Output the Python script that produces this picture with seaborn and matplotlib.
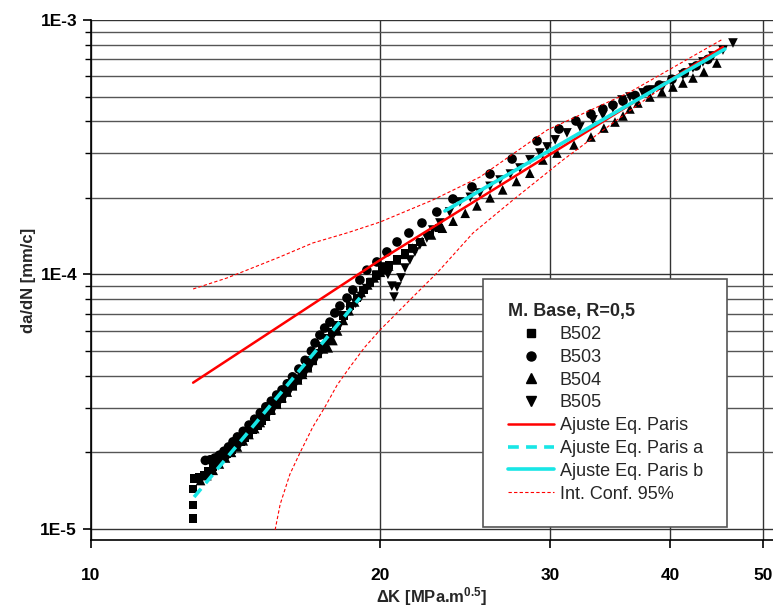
import matplotlib
matplotlib.use("Agg")
import matplotlib.pyplot as plt
import seaborn as sns
from matplotlib.lines import Line2D
from matplotlib.ticker import FixedLocator, FuncFormatter, NullFormatter, NullLocator, LogLocator

# --- data ---
b502_dk = [12.77, 12.77, 12.77, 12.80, 12.95, 13.1, 13.25, 13.4, 13.55, 13.7, 13.85, 14.0,
           14.15, 14.3, 14.45, 14.6, 14.75, 14.9, 15.05, 15.2, 15.4, 15.6, 15.8, 16.0, 16.2,
           16.4, 16.6, 16.8, 17.0, 17.2, 17.4, 17.6, 17.8, 18.0, 18.3, 18.6, 18.9, 19.2,
           19.5, 19.8, 20.1, 20.4, 20.8, 21.2, 21.6, 22.0, 22.5, 23.0]
b502_dadn = [1.10e-5, 1.24e-5, 1.44e-5, 1.58e-5, 1.60e-5, 1.62e-5, 1.68e-5, 1.75e-5, 1.83e-5,
             1.91e-5, 1.98e-5, 2.05e-5, 2.12e-5, 2.20e-5, 2.28e-5, 2.37e-5, 2.46e-5, 2.55e-5,
             2.65e-5, 2.76e-5, 2.92e-5, 3.08e-5, 3.26e-5, 3.45e-5, 3.65e-5, 3.87e-5, 4.10e-5,
             4.35e-5, 4.62e-5, 4.92e-5, 5.25e-5, 5.6e-5, 5.95e-5, 6.3e-5, 6.9e-5, 7.5e-5,
             8.1e-5, 8.7e-5, 9.3e-5, 9.9e-5, 1.04e-4, 1.09e-4, 1.15e-4, 1.21e-4, 1.27e-4,
             1.34e-4, 1.43e-4, 1.52e-4]

b503_dk = [13.15, 13.3, 13.45, 13.6, 13.75, 13.9, 14.05, 14.2, 14.4, 14.6, 14.8, 15.0, 15.2,
           15.4, 15.6, 15.8, 16.0, 16.2, 16.45, 16.7, 16.95, 17.1, 17.3, 17.5, 17.72, 17.93,
           18.15, 18.46, 18.72, 19.04, 19.36, 19.83, 20.31, 20.81, 21.41, 22.09, 22.89, 23.79,
           24.9, 26.0, 27.41, 29.1, 30.67, 31.94, 33.11, 34.07, 34.9, 35.75, 36.8, 37.9, 39.0,
           40.2, 41.4, 42.6, 43.8]
b503_dadn = [1.86e-5, 1.87e-5, 1.90e-5, 1.95e-5, 2.02e-5, 2.10e-5, 2.20e-5, 2.30e-5, 2.42e-5,
             2.56e-5, 2.70e-5, 2.86e-5, 3.02e-5, 3.18e-5, 3.36e-5, 3.52e-5, 3.72e-5, 3.96e-5,
             4.25e-5, 4.60e-5, 5.0e-5, 5.38e-5, 5.78e-5, 6.16e-5, 6.5e-5, 7.06e-5, 7.52e-5,
             8.08e-5, 8.69e-5, 9.51e-5, 1.04e-4, 1.12e-4, 1.226e-4, 1.342e-4, 1.455e-4,
             1.593e-4, 1.76e-4, 1.98e-4, 2.207e-4, 2.482e-4, 2.843e-4, 3.346e-4, 3.729e-4,
             4.01e-4, 4.27e-4, 4.47e-4, 4.63e-4, 4.8e-4, 5.05e-4, 5.3e-4, 5.55e-4, 5.85e-4,
             6.2e-4, 6.6e-4, 7.0e-4]

b504_dk = [13.0, 13.2, 13.4, 13.6, 13.8, 14.0, 14.2, 14.4, 14.6, 14.8, 15.0, 15.2, 15.4, 15.6,
           15.8, 16.0, 16.2, 16.4, 16.6, 16.8, 17.0, 17.2, 17.45, 17.65, 17.85, 18.05, 18.3,
           18.55, 18.8, 19.1, 19.4, 19.7, 20.0, 20.4, 20.8, 21.2, 21.6, 22.1, 22.6, 23.2, 23.8,
           24.5, 25.2, 26.0, 26.8, 27.7, 28.6, 29.51, 30.52, 31.79, 33.11, 34.15, 35.07, 35.75,
           36.35, 37.05, 38.13, 39.24, 40.29, 41.27, 42.27, 43.39, 44.76]
b504_dadn = [1.55e-5, 1.62e-5, 1.70e-5, 1.80e-5, 1.90e-5, 2.00e-5, 2.10e-5, 2.22e-5, 2.35e-5,
             2.48e-5, 2.62e-5, 2.78e-5, 2.94e-5, 3.1e-5, 3.28e-5, 3.45e-5, 3.65e-5, 3.85e-5,
             4.05e-5, 4.3e-5, 4.6e-5, 4.9e-5, 5.1e-5, 5.15e-5, 5.5e-5, 6.0e-5, 6.6e-5, 7.2e-5,
             7.8e-5, 8.5e-5, 9.1e-5, 9.7e-5, 1.02e-4, 1.08e-4, 1.14e-4, 1.2e-4, 1.27e-4,
             1.35e-4, 1.43e-4, 1.52e-4, 1.62e-4, 1.74e-4, 1.86e-4, 2.0e-4, 2.15e-4, 2.32e-4,
             2.5e-4, 2.818e-4, 3.0e-4, 3.228e-4, 3.469e-4, 3.762e-4, 3.973e-4, 4.196e-4,
             4.471e-4, 4.719e-4, 4.982e-4, 5.213e-4, 5.453e-4, 5.655e-4, 5.918e-4, 6.248e-4,
             6.776e-4]

b505_dk = [13.5, 13.7, 13.9, 14.1, 14.3, 14.5, 14.7, 14.9, 15.1, 15.3, 15.5, 15.7, 15.9, 16.1,
           16.3, 16.5, 16.7, 16.9, 17.1, 17.3, 17.5, 17.7, 17.9, 18.1, 18.35, 18.6, 18.85, 19.1,
           19.35, 19.6, 19.83, 20.12, 20.36, 20.55, 20.66, 20.81, 21.01, 21.21, 21.46, 21.72,
           21.98, 22.35, 22.67, 23.06, 23.6, 24.19, 24.8, 25.38, 26.0, 26.63, 27.3, 27.93,
           28.61, 29.3, 29.81, 30.39, 31.26, 32.25, 33.27, 34.07, 34.9, 35.66, 36.35, 37.5,
           38.41, 39.34, 40.29, 41.27, 42.27, 43.29, 44.34, 45.42, 46.52]
b505_dadn = [1.78e-5, 1.86e-5, 1.95e-5, 2.05e-5, 2.16e-5, 2.28e-5, 2.41e-5, 2.54e-5, 2.68e-5,
             2.83e-5, 2.98e-5, 3.14e-5, 3.31e-5, 3.49e-5, 3.68e-5, 3.88e-5, 4.1e-5, 4.33e-5,
             4.58e-5, 4.86e-5, 5.16e-5, 5.5e-5, 5.85e-5, 6.2e-5, 6.7e-5, 7.2e-5, 7.7e-5, 8.2e-5,
             8.8e-5, 9.3e-5, 9.95e-5, 1.07e-4, 1.0e-4, 9.0e-5, 8.15e-5, 8.93e-5, 9.69e-5,
             1.06e-4, 1.14e-4, 1.226e-4, 1.306e-4, 1.391e-4, 1.495e-4, 1.593e-4, 1.76e-4,
             1.927e-4, 2.01e-4, 2.09e-4, 2.22e-4, 2.35e-4, 2.48e-4, 2.62e-4, 2.82e-4, 3.0e-4,
             3.17e-4, 3.38e-4, 3.6e-4, 3.8e-4, 4.05e-4, 4.23e-4, 4.51e-4, 4.85e-4, 4.98e-4,
             5.17e-4, 5.31e-4, 5.5e-4, 5.81e-4, 6.08e-4, 6.48e-4, 6.84e-4, 7.22e-4, 7.62e-4,
             8.12e-4]

paris_dk = [12.77, 19.97, 45.42]
paris_dadn = [3.757e-5, 1.138e-4, 7.83e-4]

paris_a_dk = [12.80, 19.04]
paris_a_dadn = [1.335e-5, 8.09e-5]

paris_b_dk = [23.34, 45.63]
paris_b_dadn = [1.777e-4, 7.69e-4]

conf_up_dk = [12.77, 13.85, 14.53, 15.7, 17.01, 18.5, 19.98, 22.67, 25.38, 29.81, 36.35, 45.42]
conf_up_dadn = [8.77e-5, 9.69e-5, 1.041e-4, 1.17e-4, 1.33e-4, 1.46e-4, 1.607e-4, 1.962e-4,
                2.415e-4, 3.695e-4, 5.21e-4, 8.42e-4]
conf_lo_dk = [15.54, 15.73, 16.10, 16.49, 17.01, 17.51, 18.03, 18.59, 19.27, 19.98, 21.46,
              22.95, 24.96, 27.47, 30.96, 35.24, 40.0, 45.1]
conf_lo_dadn = [9.91e-6, 1.25e-5, 1.64e-5, 1.989e-5, 2.517e-5, 3.015e-5, 3.679e-5, 4.33e-5,
                5.19e-5, 6.05e-5, 7.94e-5, 1.023e-4, 1.455e-4, 1.962e-4, 2.818e-4, 4.05e-4,
                5.71e-4, 7.69e-4]

x_ticks = [10, 20, 30, 40, 50]
y_ticks = [1e-5, 1e-4, 1e-3]
y_tick_labels = {1e-5: "1E-5", 1e-4: "1E-4", 1e-3: "1E-3"}

sns.set_style("ticks")
plt.rcParams['font.family'] = ['Liberation Sans', 'DejaVu Sans']
plt.rcParams['mathtext.fontset'] = 'custom'
plt.rcParams['mathtext.bf'] = 'Liberation Sans:bold'
plt.rcParams['mathtext.rm'] = 'Liberation Sans:bold'
plt.rcParams['mathtext.default'] = 'bf'

fig = plt.figure(figsize=(7.73, 6.09), dpi=100)
ax = fig.add_axes([91 / 773, 69 / 609, 682 / 773, 520 / 609])
ax.set_xscale('log')
ax.set_yscale('log')

cyan = '#18e6e6'
series = [(b502_dk, b502_dadn, 's', 36), (b503_dk, b503_dadn, 'o', 48),
          (b504_dk, b504_dadn, '^', 48), (b505_dk, b505_dadn, 'v', 48)]
for xs, ys, mk, sz in series:
    sns.scatterplot(x=xs, y=ys, marker=mk, color='black', s=sz, edgecolor='none',
                    linewidth=0, ax=ax, zorder=3, legend=False)

sns.lineplot(x=conf_up_dk, y=conf_up_dadn, color='red', lw=0.8, linestyle=(0, (3, 2)),
             sort=False, estimator=None, ax=ax, zorder=4)
sns.lineplot(x=conf_lo_dk, y=conf_lo_dadn, color='red', lw=0.8, linestyle=(0, (3, 2)),
             sort=False, estimator=None, ax=ax, zorder=4)
sns.lineplot(x=paris_dk, y=paris_dadn, color='red', lw=1.8, sort=False, estimator=None,
             ax=ax, zorder=5)
sns.lineplot(x=paris_a_dk, y=paris_a_dadn, color=cyan, lw=2.6, linestyle=(0, (3, 2)),
             sort=False, estimator=None, ax=ax, zorder=5)
sns.lineplot(x=paris_b_dk, y=paris_b_dadn, color=cyan, lw=2.6, sort=False, estimator=None,
             ax=ax, zorder=5)

ax.set_xlim(10, 51.2)
ax.set_ylim(9.05e-6, 1e-3)

ax.xaxis.set_major_locator(FixedLocator(x_ticks))
ax.xaxis.set_major_formatter(FuncFormatter(lambda v, p: f"{v:g}"))
ax.xaxis.set_minor_locator(NullLocator())
ax.yaxis.set_major_locator(FixedLocator(y_ticks))
ax.yaxis.set_major_formatter(FuncFormatter(lambda v, p: y_tick_labels.get(v, "")))
ax.yaxis.set_minor_locator(LogLocator(base=10, subs=[2, 3, 4, 5, 6, 7, 8, 9]))
ax.yaxis.set_minor_formatter(NullFormatter())

ax.grid(True, which='major', axis='both', color='#333333', lw=1.0)
ax.grid(True, which='minor', axis='y', color='#555555', lw=1.0)
ax.set_axisbelow(True)

for side in ['top', 'right']:
    ax.spines[side].set_visible(False)
for side in ['left', 'bottom']:
    ax.spines[side].set_color('black')
    ax.spines[side].set_linewidth(1.2)

ax.tick_params(axis='both', which='major', direction='out', length=6, width=1.2,
               colors='black', labelsize=12.5)
ax.tick_params(axis='y', which='minor', direction='out', length=4, width=1.0, colors='black')
ax.tick_params(axis='x', which='major', pad=14)
ax.tick_params(axis='y', which='major', pad=4)
for lbl in ax.get_xticklabels() + ax.get_yticklabels():
    lbl.set_fontweight('bold')

ax.set_xlabel(r"ΔK [MPa.m$^{0.5}$]", fontsize=12, fontweight='bold', labelpad=2)
ax.set_ylabel("da/dN [mm/c]", fontsize=12, fontweight='bold', labelpad=3)

handles = [
    Line2D([], [], ls='none', marker='s', color='black', markersize=5.5),
    Line2D([], [], ls='none', marker='o', color='black', markersize=6.5),
    Line2D([], [], ls='none', marker='^', color='black', markersize=6.5),
    Line2D([], [], ls='none', marker='v', color='black', markersize=6.5),
    Line2D([], [], color='red', lw=1.8),
    Line2D([], [], color=cyan, lw=2.6, linestyle=(0, (3, 2))),
    Line2D([], [], color=cyan, lw=2.6),
    Line2D([], [], color='red', lw=0.8, linestyle=(0, (3, 2))),
]
labels = ["B502", "B503", "B504", "B505", "Ajuste Eq. Paris", "Ajuste Eq. Paris a",
          "Ajuste Eq. Paris b", "Int. Conf. 95%"]
leg = ax.legend(handles, labels, loc='upper left', bbox_to_anchor=(0.575, 0.502),
                title="M. Base, R=0,5", title_fontproperties={'weight': 'bold', 'size': 13},
                alignment='left', fontsize=13, frameon=True, fancybox=False,
                edgecolor='#555555', framealpha=1, borderpad=1.35, handlelength=2.6,
                handletextpad=0.3, labelspacing=0.32, borderaxespad=0)
leg.get_frame().set_linewidth(1.2)
leg.set_zorder(10)

fig.savefig("out.png", dpi=100)
